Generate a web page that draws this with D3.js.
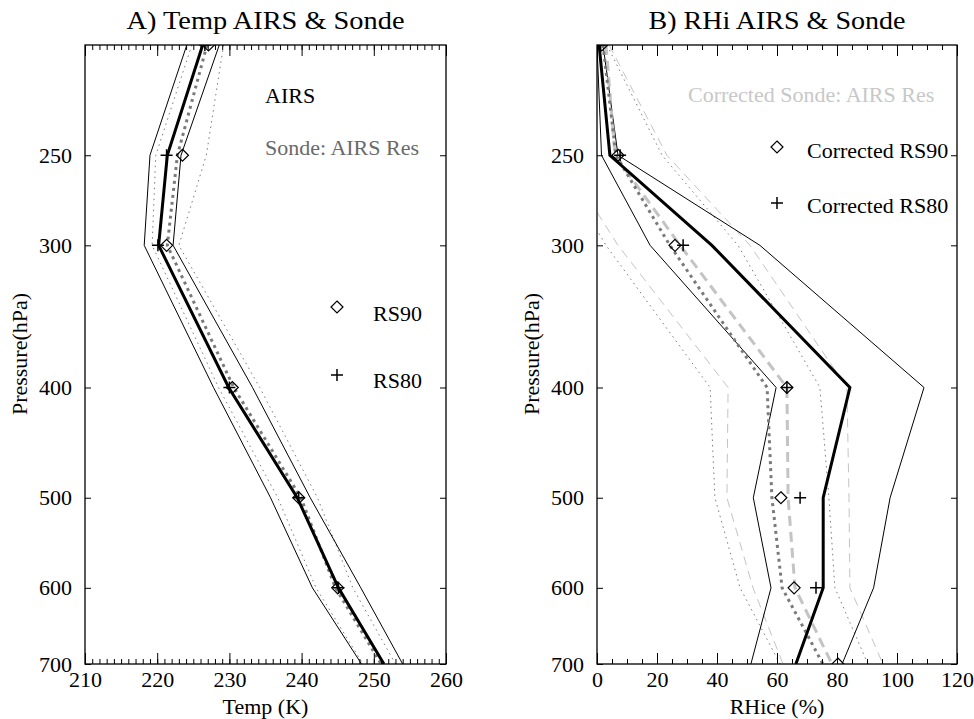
<!DOCTYPE html>
<html lang="en">
<head>
<meta charset="UTF-8">
<script src="https://d3js.org/d3.v7.min.js"></script>
<title>AIRS & Sonde profiles</title>
<style>
  body { margin: 0; background: #fff; }
  svg text { font-family: "Liberation Serif", "Times New Roman", serif; }
</style>
</head>
<body>
<div id="chart"></div>
<script>
// pressure levels (hPa)
const levels = [200, 250, 300, 400, 500, 600, 700];

// panel A: temperature (K)
const airsT    = [226.3, 221.4, 220.2, 229.9, 239.4, 245.1, 251.4];
const airsTLo  = [224.1, 219.0, 218.2, 227.8, 235.7, 241.5, 248.3];
const airsTHi  = [228.6, 223.3, 222.2, 233.2, 241.2, 248.2, 254.0];
const sondeT   = [226.9, 222.8, 221.4, 230.6, 239.9, 244.7, 251.0];
const sondeTLo = [224.8, 219.8, 219.3, 228.5, 236.7, 242.0, 248.5];
const sondeTHi = [229.2, 226.8, 223.0, 234.2, 242.2, 247.1, 253.0];
const rs90T    = [227.1, 223.5, 221.3, 230.4, 239.6, 245.0, null];
const rs80T    = [226.6, 221.3, 220.1, 230.0, 239.6, 245.1, null];

// panel B: RH ice (%)
const airsRH    = [0.7, 4.3, 38.3, 84.3, 75.4, 75.4, 66.3];
const airsRHLo  = [0, 1.5, 17.7, 59.7, 52.1, 58.0, 51.3];
const airsRHHi  = [2.0, 7.0, 54.3, 109, 97.7, 92.2, 81.7];
const sondeRH   = [2.0, 6.3, 24.3, 56.7, 58.3, 61.7, 75.3];
const sondeRHLo = [-8, -15, 3, 37.7, 39.3, 47.7, 61];
const sondeRHHi = [3.3, 21.7, 47, 74.3, 77.3, 79.3, 90.3];
const corrRH    = [3, 6, 27.7, 63.3, 63.7, 66, 78.3];
const corrRHLo  = [-5, -12, 7, 43.7, 43.3, 52, 62];
const corrRHHi  = [4, 23.3, 51, 83.3, 84, 84.3, 95.3];
const rs90RH    = [1.6, 7.0, 26, 63.3, 61.3, 65.7, 80.3];
const rs80RH    = [1.2, 7.7, 28.7, 63.3, 67.7, 73, null];

const yTicks = [250, 300, 400, 500, 600, 700];

const W = 974, H = 719;
const plotTop = 45, plotBottom = 664;
const serif = "'Liberation Serif', 'Times New Roman', serif";

const svg = d3.select("#chart").append("svg")
  .attr("width", W).attr("height", H);

const y = d3.scaleLog().domain([200, 700]).range([plotTop, plotBottom]);

function panel(id, left, right, xDomain, minorStep, majorStep, title, titleLen, xLabel) {
  const x = d3.scaleLinear().domain(xDomain).range([left, right]);
  const g = svg.append("g");

  g.append("clipPath").attr("id", id)
    .append("rect").attr("x", left).attr("y", plotTop)
    .attr("width", right - left).attr("height", plotBottom - plotTop);

  const plot = g.append("g").attr("clip-path", "url(#" + id + ")");

  const minor = d3.range(xDomain[0], xDomain[1] + 0.001, minorStep);
  const major = d3.range(xDomain[0], xDomain[1] + 0.001, majorStep);

  // bottom axis ticks (inside)
  g.append("g").attr("transform", "translate(0," + plotBottom + ")")
    .call(d3.axisBottom(x).tickValues(minor).tickSize(-5).tickFormat(""))
    .call(a => a.select(".domain").remove());
  g.append("g").attr("transform", "translate(0," + plotBottom + ")")
    .call(d3.axisBottom(x).tickValues(major).tickSize(-11).tickPadding(7).tickSizeOuter(0))
    .attr("font-family", serif)
    .call(a => a.select(".domain").remove())
    .call(a => a.selectAll("text").style("font-size", "22px").attr("fill", "#000"));
  // top axis ticks
  g.append("g").attr("transform", "translate(0," + plotTop + ")")
    .call(d3.axisTop(x).tickValues(minor).tickSize(-5).tickFormat(""))
    .call(a => a.select(".domain").remove());
  g.append("g").attr("transform", "translate(0," + plotTop + ")")
    .call(d3.axisTop(x).tickValues(major).tickSize(-11).tickFormat(""))
    .call(a => a.select(".domain").remove());
  // left / right axis
  g.append("g").attr("transform", "translate(" + left + ",0)")
    .call(d3.axisLeft(y).tickValues(yTicks).tickSize(-6).tickPadding(13).tickFormat(d3.format("d")))
    .attr("font-family", serif)
    .call(a => a.select(".domain").remove())
    .call(a => a.selectAll("text").style("font-size", "22px").attr("fill", "#000"));
  g.append("g").attr("transform", "translate(" + right + ",0)")
    .call(d3.axisRight(y).tickValues(yTicks).tickSize(-6).tickFormat(""))
    .call(a => a.select(".domain").remove());

  g.selectAll(".tick line").attr("stroke", "#000").attr("stroke-width", 1);

  g.append("rect").attr("x", left).attr("y", plotTop)
    .attr("width", right - left).attr("height", plotBottom - plotTop)
    .attr("fill", "none").attr("stroke", "#000").attr("stroke-width", 1.3);

  g.append("text").attr("x", (left + right) / 2).attr("y", 29)
    .attr("text-anchor", "middle").style("font-size", "26px")
    .attr("textLength", titleLen).attr("lengthAdjust", "spacingAndGlyphs")
    .text(title);

  g.append("text").attr("x", (left + right) / 2).attr("y", 714)
    .attr("text-anchor", "middle").style("font-size", "22px")
    .text(xLabel);

  g.append("text")
    .attr("transform", "translate(" + (left - 58) + "," + 354 + ") rotate(-90)")
    .attr("text-anchor", "middle").style("font-size", "22px")
    .text("Pressure(hPa)");

  return { x: x, plot: plot, g: g };
}

function profile(p, vals, color, width, dash) {
  const line = d3.line()
    .x(d => p.x(d[0])).y(d => y(d[1]));
  p.plot.append("path")
    .datum(vals.map((v, i) => [v, levels[i]]))
    .attr("d", line)
    .attr("fill", "none")
    .attr("stroke", color)
    .attr("stroke-width", width)
    .attr("stroke-dasharray", dash || null)
    .attr("stroke-linejoin", "miter");
}

function diamond(sel, cx, cy, r) {
  sel.append("path")
    .attr("d", "M" + cx + "," + (cy - r) + "L" + (cx + r) + "," + cy + "L" + cx + "," + (cy + r) + "L" + (cx - r) + "," + cy + "Z")
    .attr("fill", "none").attr("stroke", "#000").attr("stroke-width", 1.2);
}
function plus(sel, cx, cy, r) {
  sel.append("path")
    .attr("d", "M" + (cx - r) + "," + cy + "H" + (cx + r) + "M" + cx + "," + (cy - r) + "V" + (cy + r))
    .attr("fill", "none").attr("stroke", "#000").attr("stroke-width", 1.5);
}
function markers(p, vals, kind) {
  vals.forEach((v, i) => {
    if (v === null) return;
    if (kind === "d") diamond(p.plot, p.x(v), y(levels[i]), 6);
    else plus(p.plot, p.x(v), y(levels[i]), 6);
  });
}

const darkGray = "#7a7a7a";
const lightGray = "#c4c4c4";

// ---- panel A
const A = panel("clipA", 85, 446, [210, 260], 1, 10, "A) Temp AIRS & Sonde", 278, "Temp (K)");
profile(A, sondeTLo, darkGray, 1, "1.5,4");
profile(A, sondeTHi, darkGray, 1, "1.5,4");
profile(A, airsTLo, "#000", 1);
profile(A, airsTHi, "#000", 1);
profile(A, sondeT, darkGray, 3, "3,4");
profile(A, airsT, "#000", 3);
markers(A, rs90T, "d");
markers(A, rs80T, "p");

A.g.append("text").attr("x", 265).attr("y", 103).style("font-size", "22px").text("AIRS");
A.g.append("text").attr("x", 265).attr("y", 155).style("font-size", "22px")
  .attr("fill", "#6a6a6a").text("Sonde: AIRS Res");
diamond(A.g, 337, 307, 6);
A.g.append("text").attr("x", 373).attr("y", 321).style("font-size", "22px").text("RS90");
plus(A.g, 337, 375, 6);
A.g.append("text").attr("x", 373).attr("y", 388).style("font-size", "22px").text("RS80");

// ---- panel B
const B = panel("clipB", 597, 957, [0, 120], 5, 20, "B) RHi AIRS & Sonde", 257, "RHice (%)");
profile(B, sondeRHLo, darkGray, 1, "1.5,4");
profile(B, sondeRHHi, darkGray, 1, "1.5,4");
profile(B, corrRHLo, lightGray, 1, "9,6");
profile(B, corrRHHi, lightGray, 1, "9,6");
profile(B, airsRHLo, "#000", 1);
profile(B, airsRHHi, "#000", 1);
profile(B, corrRH, lightGray, 3, "10,6");
profile(B, sondeRH, darkGray, 3, "3,4");
profile(B, airsRH, "#000", 3);
markers(B, rs90RH, "d");
markers(B, rs80RH, "p");

B.g.append("text").attr("x", 688).attr("y", 102).style("font-size", "22px")
  .attr("fill", "#c8c8c8").text("Corrected Sonde: AIRS Res");
diamond(B.g, 777, 147, 6);
B.g.append("text").attr("x", 807).attr("y", 158).style("font-size", "22px").text("Corrected RS90");
plus(B.g, 777, 203, 6);
B.g.append("text").attr("x", 807).attr("y", 213).style("font-size", "22px").text("Corrected RS80");
</script>
</body>
</html>
